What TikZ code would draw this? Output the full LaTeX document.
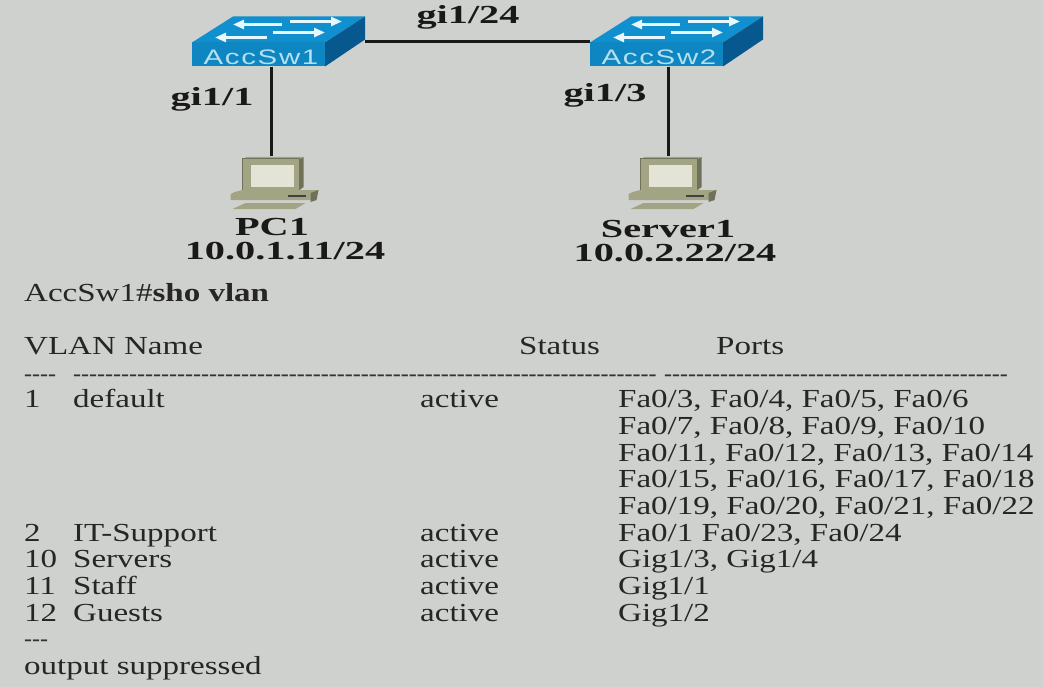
\documentclass[tikz,border=0pt]{standalone}
\usepackage{fontspec}
\usetikzlibrary{arrows.meta}
\setmainfont{Liberation Serif}[FakeStretch=1.27]
\newfontfamily\labelfont{Liberation Serif}[FakeStretch=1.55]
\newfontfamily\dashfont{Liberation Serif}
\newfontfamily\swfont{Liberation Sans}[FakeStretch=1.4,LetterSpace=8]
\definecolor{bgGray}{HTML}{CFD1CE}
\definecolor{swTop}{HTML}{1090CE}
\definecolor{swFront}{HTML}{0E86C2}
\definecolor{swSide}{HTML}{07588F}
\definecolor{swText}{HTML}{B6E0EE}
\definecolor{pcFace}{HTML}{A3A484}
\definecolor{pcSide}{HTML}{6F7159}
\definecolor{pcScreen}{HTML}{E3E3D6}
\tikzset{
  row/.style={anchor=base west, inner sep=0pt, font=\fontsize{26}{28}\selectfont, text=black!85},
  dashrow/.style={anchor=base west, inner sep=0pt, font=\dashfont\fontsize{24}{26}\selectfont, text=black!80},
  portlabel/.style={inner sep=0pt, font=\labelfont\fontsize{26}{28}\selectfont\bfseries, text=black!90},
  link/.style={line width=3pt, black!90},
  swbox/.style={minimum width=173pt, minimum height=50pt, inner sep=0pt},
  pcbox/.style={minimum width=61pt, minimum height=34pt, inner sep=0pt},
  swarrow/.style={white!90!cyan, line width=2.6pt, -{Triangle[length=11pt,width=9pt]}},
  switchicon/.pic={
    \fill[swTop] (-86.5,1) -- (46.5,1) -- (86.5,-25) -- (-45.5,-25) -- cycle;
    \fill[swFront] (-86.5,1) rectangle (46.5,25);
    \fill[swSide] (46.5,1) -- (86.5,-25) -- (86.5,-2) -- (46.5,25) -- cycle;
    \draw[swarrow] (3.5,-17) -- (-45.5,-17);
    \draw[swarrow] (11.5,-20) -- (63.5,-20);
    \draw[swarrow] (-11.5,-4) -- (-63.5,-4);
    \draw[swarrow] (-5.5,-9) -- (46.5,-9);
  },
  pcicon/.pic={
    % monitor
    \fill[pcSide] (27,-14) -- (31,-16) -- (31,14) -- (27,17) -- cycle;
    \fill[pcFace] (-30,-14) -- (-26,-16) -- (31,-16) -- (27,-14) -- (27,17) -- (-30,17) -- cycle;
    \fill[pcScreen] (-22,-8) rectangle (21,14);
    \draw[pcSide, line width=1pt] (-30,-14) -- (27,-14) -- (27,17) -- (-30,17) -- cycle;
    % base
    \fill[pcFace] (-38,19) -- (-30,17) -- (46,17) -- (42,27) -- (-42,27) -- (-42,21) -- cycle;
    \fill[pcSide] (38,20) -- (46,17) -- (44,27) -- (38,29) -- cycle;
    \fill[black!75] (15,22) rectangle (33,24);
    % keyboard
    \fill[pcFace] (-27,30) -- (33,30) -- (23,36) -- (-40,36) -- cycle;
  }
}
\begin{document}
\begin{tikzpicture}[x=1pt, y=-1pt]
  \useasboundingbox (0,0) rectangle (1043,687);
  \fill[bgGray] (0,0) rectangle (1043,687);

  % Devices
  \node[swbox] (AccSw1) at (278.5,41.5) {};
  \node[swbox] (AccSw2) at (676.5,41.5) {};
  \node[pcbox] (PC1) at (271,173) {};
  \node[pcbox] (Server1) at (668,173) {};

  % Links
  \draw[link] (AccSw1.east) -- (AccSw2.west);
  \draw[link] (PC1.north |- AccSw1.south) -- (PC1.north);
  \draw[link] (Server1.north |- AccSw2.south) -- (Server1.north);

  \pic at (AccSw1.center) {switchicon};
  \pic at (AccSw2.center) {switchicon};
  \pic at ([xshift=1.5pt]PC1.center) {pcicon};
  \pic at ([xshift=2.5pt]Server1.center) {pcicon};
  \node[text=swText, inner sep=0pt, font=\swfont\fontsize{21}{24}\selectfont] (AccSw1Name) at (261,57) {AccSw1};
  \node[text=swText, inner sep=0pt, font=\swfont\fontsize{21}{24}\selectfont] (AccSw2Name) at (659,57) {AccSw2};

  % Port and host labels
  \node[portlabel] (PortTrunk) at (468,17) {gi1/24};
  \node[portlabel] (PortPC) at (212,99) {gi1/1};
  \node[portlabel] (PortServer) at (605,95) {gi1/3};
  \node[portlabel] (PC1Name) at (272,227) {PC1};
  \node[portlabel] (PC1Addr) at (285,251) {10.0.1.11/24};
  \node[portlabel] (Server1Name) at (668,229) {Server1};
  \node[portlabel] (Server1Addr) at (675,253) {10.0.2.22/24};

  % Command and table head
  \node[row] (Prompt) at (24,301) {AccSw1\#\textbf{sho vlan}};
  \node[row] (HeadName) at (24,354) {VLAN Name};
  \node[row] (HeadStatus) at (519,354) {Status};
  \node[row] (HeadPorts) at (716,354) {Ports};
  \node[dashrow] (RuleA) at (24,381) {----};
  \node[dashrow] (RuleB) at (73,381) {-------------------------------------------------------------------------};
  \node[dashrow] (RuleC) at (664,381) {-------------------------------------------};

  % VLAN 1
  \node[row] (IdA) at (24,407) {1};
  \node[row] (NameA) at (73,407) {default};
  \node[row] (StatusA) at (420,407) {active};
  \node[row] (PortsA) at (618,407) {Fa0/3, Fa0/4, Fa0/5, Fa0/6};
  \node[row] (PortsB) at (618,434) {Fa0/7, Fa0/8, Fa0/9, Fa0/10};
  \node[row] (PortsC) at (618,461) {Fa0/11, Fa0/12, Fa0/13, Fa0/14};
  \node[row] (PortsD) at (618,487) {Fa0/15, Fa0/16, Fa0/17, Fa0/18};
  \node[row] (PortsE) at (618,514) {Fa0/19, Fa0/20, Fa0/21, Fa0/22};

  % Other VLANs
  \node[row] (IdB) at (24,541) {2};
  \node[row] (NameB) at (73,541) {IT-Support};
  \node[row] (StatusB) at (420,541) {active};
  \node[row] (PortsF) at (618,541) {Fa0/1 Fa0/23, Fa0/24};
  \node[row] (IdC) at (24,567) {10};
  \node[row] (NameC) at (73,567) {Servers};
  \node[row] (StatusC) at (420,567) {active};
  \node[row] (PortsG) at (618,567) {Gig1/3, Gig1/4};
  \node[row] (IdD) at (24,594) {11};
  \node[row] (NameD) at (73,594) {Staff};
  \node[row] (StatusD) at (420,594) {active};
  \node[row] (PortsH) at (618,594) {Gig1/1};
  \node[row] (IdE) at (24,621) {12};
  \node[row] (NameE) at (73,621) {Guests};
  \node[row] (StatusE) at (420,621) {active};
  \node[row] (PortsI) at (618,621) {Gig1/2};

  \node[dashrow] (RuleD) at (24,646) {---};
  \node[row] (Suppressed) at (24,674) {output suppressed};
\end{tikzpicture}
\end{document}
